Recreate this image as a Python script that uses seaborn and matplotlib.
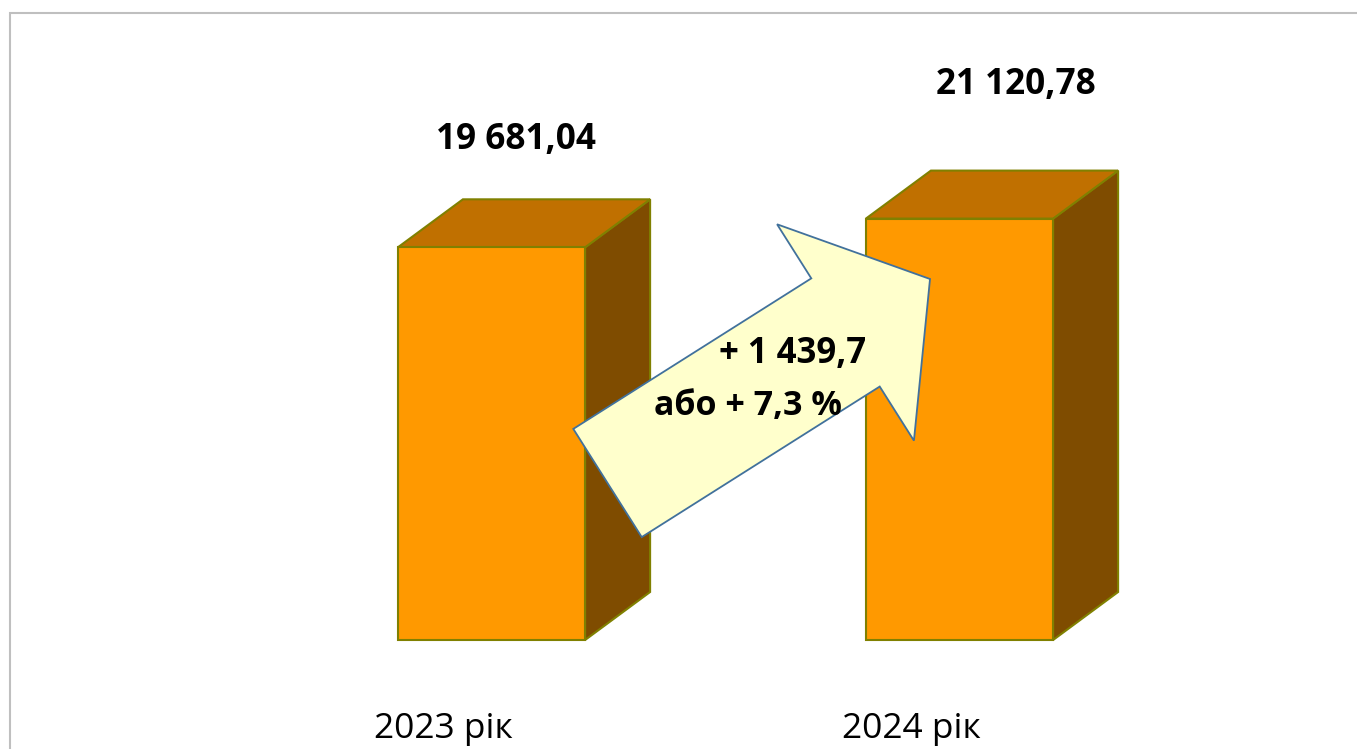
import matplotlib
matplotlib.use("Agg")
import matplotlib.pyplot as plt
from matplotlib.patches import Polygon, Rectangle
from matplotlib.transforms import IdentityTransform
import numpy as np
import seaborn as sns

# data
years = ["2023 рік", "2024 рік"]
values = [19681.04, 21120.78]

FRONT = "#FF9900"
TOP = "#C07000"
SIDE = "#7F4C00"
EDGE = "#808000"
FONT = ["Open Sans", "DejaVu Sans"]

W, H = 1357, 749
fig = plt.figure(figsize=(W / 100, H / 100), dpi=100)
ax = fig.add_axes([0, 0, 1, 1])

sns.barplot(
    x=years,
    y=values,
    width=0.4,
    color=FRONT,
    saturation=1,
    edgecolor=EDGE,
    linewidth=1.5,
    ax=ax,
)

# axis limits chosen so the layout matches the original slide
px_x = 1 / 468.0      # data units per pixel (x)
px_y = 50.12          # data units per pixel (y)
ax.set_xlim(-491.5 * px_x, (W - 491.5) * px_x)
ax.set_ylim(-109 * px_y, (H - 109) * px_y)
ax.axis("off")

# 3D depth of the boxes
dx, dy = 65 * px_x, 48 * px_y
half = 0.2

for i, v in enumerate(values):
    l, r = i - half, i + half
    side = Polygon(
        [(r, 0), (r + dx, dy), (r + dx, v + dy), (r, v)],
        closed=True, facecolor=SIDE, edgecolor=EDGE, lw=1.5, zorder=0.9,
    )
    top = Polygon(
        [(l, v), (l + dx, v + dy), (r + dx, v + dy), (r, v)],
        closed=True, facecolor=TOP, edgecolor=EDGE, lw=1.5, zorder=0.9,
    )
    ax.add_patch(side)
    ax.add_patch(top)

# value labels above the boxes
label_offsets = [(24, 98), (56, 125)]
for i, v in enumerate(values):
    txt = f"{v:,.2f}".replace(",", " ").replace(".", ",")
    ox, oy = label_offsets[i]
    ax.text(i + ox * px_x, v + oy * px_y, txt, ha="center", va="baseline",
            fontsize=25.3, fontweight="bold", family=FONT)

# category labels under the boxes
for i, name in enumerate(years):
    ax.text(i - 48 * px_x, -98 * px_y, name, ha="center", va="baseline",
            fontsize=25.5, family=FONT)

# growth arrow (built in pixel space so it keeps its shape)
tail = ax.transData.transform((0.2479, 7869))
tip = ax.transData.transform((0.9370, 18093))
d = tip - tail
u = d / np.hypot(*d)
n = np.array([-u[1], u[0]])
head_len, shaft_w, head_w = 100, 128, 256
base = tip - u * head_len
pts = [
    tail - n * shaft_w / 2,
    base - n * shaft_w / 2,
    base - n * head_w / 2,
    tip,
    base + n * head_w / 2,
    base + n * shaft_w / 2,
    tail + n * shaft_w / 2,
]
arrow = Polygon(pts, closed=True, transform=IdentityTransform(),
                facecolor="#FFFFCC", edgecolor="#41719C", lw=1.3,
                zorder=5, clip_on=False)
ax.add_patch(arrow)

diff = values[1] - values[0]
pct = diff / values[0] * 100
diff_txt = f"{diff:,.1f}".replace(",", " ").replace(".", ",")
pct_txt = f"{pct:.1f}".replace(".", ",")
ax.text((792.5 - 491.5) * px_x, (H - 363 - 109) * px_y, f"+ {diff_txt}",
        ha="center", va="baseline", fontsize=25, fontweight="bold",
        family=FONT, zorder=6)
ax.text((747.5 - 491.5) * px_x, (H - 415 - 109) * px_y, f"або + {pct_txt} %",
        ha="center", va="baseline", fontsize=24.5, fontweight="bold",
        family=FONT, zorder=6)

# slide frame
fig.add_artist(Rectangle((10 / W, -0.1), 2, (H - 13) / H + 0.1,
                         transform=fig.transFigure, fill=False,
                         edgecolor="#BFBFBF", lw=1.5))

fig.savefig("out.png", dpi=100)
